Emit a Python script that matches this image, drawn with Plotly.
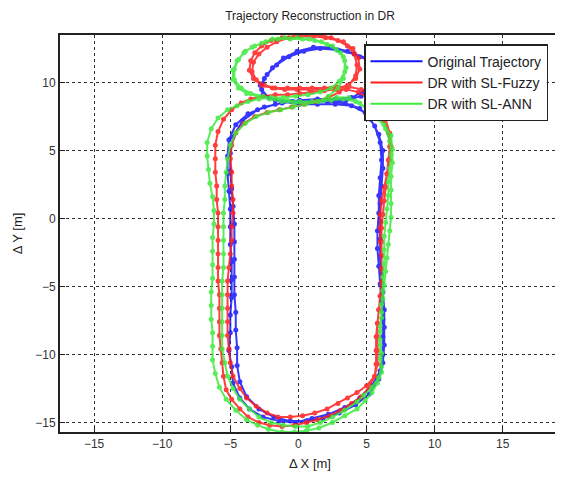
import plotly.graph_objects as go

# ---------------- data ----------------
orig_x = [0.6, -0.6, -1.8, -2.9, -3.8, -4.3, -4.5, -4.5, -4.6, -4.6, -4.7, -4.7, -4.7, -4.7, -4.7, -4.8, -4.9, -5.0, -5.0, -4.8,
          -4.1, -3.0, -1.7, -0.4, 0.9, 2.2, 3.5, 4.6, 5.4, 5.7, 5.3, 4.5, 3.6, 2.4, 1.1, -0.1, -1.1, -1.9, -2.5, -2.7,
          -2.2, -1.2, 0.1, 1.4, 2.7, 3.9, 4.9, 5.6, 6.0, 6.1, 6.0, 5.9, 5.9, 5.8, 5.8, 5.9, 6.0, 6.1, 6.2, 6.2,
          6.2, 6.0, 5.4, 4.5, 3.4, 2.2, 1.0,
          -0.2, -1.4, -2.6, -3.6, -4.3, -4.8, -4.9, -5.1, -5.0, -5.0, -4.9, -4.9, -4.9, -5.0, -5.0, -5.0, -5.1, -5.2, -5.2, -5.1,
          -4.6, -3.7, -2.5, -1.2, 0.1, 1.4, 2.7, 3.9, 4.9, 5.6, 5.6, 5.0, 4.1, 2.9, 1.6, 0.4, -0.7, -1.6, -2.3, -2.8,
          -2.6, -1.7, -0.5, 0.8, 2.1, 3.4, 4.5, 5.3, 5.9, 6.2, 6.2, 6.1, 6.0, 6.0, 6.0, 6.0, 6.1, 6.2, 6.3, 6.3,
          6.3, 6.2, 5.9, 5.2, 4.2, 3.0, 1.8, 0.6]
orig_y = [-14.9, -14.9, -14.6, -14.0, -13.1, -12.0, -10.8, -9.5, -8.2, -6.9, -5.6, -4.3, -3.0, -1.7, -0.4, 0.9, 2.2, 3.5, 4.8, 6.0,
          7.2, 8.0, 8.4, 8.6, 8.6, 8.6, 8.7, 9.0, 9.8, 10.8, 11.6, 11.9, 12.3, 12.6, 12.6, 12.3, 11.8, 11.1, 10.3, 9.5,
          8.9, 8.6, 8.4, 8.4, 8.4, 8.3, 7.8, 6.8, 5.6, 4.3, 3.0, 1.7, 0.4, -0.9, -2.2, -3.5, -4.8, -6.1, -7.4, -8.7,
          -10.0, -11.2, -12.3, -13.2, -13.9, -14.4, -14.7,
          -15.0, -14.9, -14.6, -14.0, -13.2, -12.1, -10.9, -9.7, -8.4, -7.1, -5.8, -4.5, -3.2, -1.9, -0.6, 0.7, 2.0, 3.3, 4.6, 5.8,
          6.9, 7.7, 8.2, 8.5, 8.7, 8.8, 8.8, 8.9, 9.4, 10.3, 11.3, 11.8, 12.1, 12.4, 12.5, 12.3, 11.9, 11.3, 10.6, 9.8,
          9.1, 8.7, 8.6, 8.6, 8.6, 8.5, 8.1, 7.3, 6.2, 5.0, 3.7, 2.4, 1.1, -0.2, -1.5, -2.8, -4.1, -5.4, -6.7, -8.0,
          -9.3, -10.6, -11.8, -12.9, -13.7, -14.3, -14.7, -14.9]

fuzzy_x = [0.6, -0.3, -1.2, -2.1, -2.9, -3.7, -4.3, -4.9, -5.3, -5.5, -5.6, -5.7, -5.8, -5.8, -5.8, -5.8, -5.9, -5.9, -5.9, -5.9,
           -5.9, -5.9, -6.0, -6.0, -6.1, -6.1, -6.1, -5.9, -5.5, -4.9, -4.2, -3.5, -2.6, -1.7, -0.8, 0.1, 1.0, 1.9, 2.8, 3.6,
           4.2, 4.5, 4.4, 4.0, 3.3, 2.4, 1.5, 0.6, -0.3, -1.2, -2.0, -2.7, -3.2, -3.5, -3.6, -3.3, -2.7, -1.9, -1.0, -0.1,
           0.8, 1.7, 2.6, 3.5, 4.4, 5.2, 5.8, 6.3, 6.6, 6.7, 6.6, 6.5, 6.4, 6.3, 6.2, 6.1, 6.1, 6.1, 6.1, 6.1,
           6.0, 5.9, 5.8, 5.8, 5.8, 5.8, 5.6, 5.0, 4.3, 3.6, 2.9, 2.1, 1.2, 0.3, -0.6,
           -1.5, -2.3, -3.1, -3.8, -4.3, -4.8, -5.0, -5.1, -5.2, -5.2, -5.2, -5.2, -5.2, -5.1, -5.0, -4.9, -4.9, -4.8, -4.8, -4.9,
           -4.9, -5.0, -4.9, -4.6, -4.0, -3.2, -2.3, -1.4, -0.5, 0.4, 1.3, 2.2, 3.0, 3.7, 4.2, 4.3, 4.1, 3.6, 2.9, 2.0,
           1.1, 0.2, -0.7, -1.6, -2.3, -2.9, -3.3, -3.4, -3.1, -2.5, -1.7, -0.8, 0.1, 1.0, 1.9, 2.8, 3.7, 4.6, 5.4, 6.0,
           6.4, 6.7, 6.8, 6.7, 6.5, 6.3, 6.1, 6.0, 6.0, 6.0, 6.1, 6.1, 6.1, 6.0, 5.9, 5.8, 5.7, 5.7, 5.7, 5.6,
           5.2, 4.6, 3.9, 3.1, 2.3, 1.4, 0.6]
fuzzy_y = [-15.0, -15.2, -15.3, -15.2, -15.0, -14.6, -14.0, -13.3, -12.6, -11.6, -10.6, -9.6, -8.6, -7.6, -6.6, -5.6, -4.6, -3.6, -2.6, -1.6,
           -0.6, 0.4, 1.4, 2.4, 3.4, 4.4, 5.4, 6.4, 7.3, 8.0, 8.5, 8.8, 9.0, 9.1, 9.1, 9.2, 9.3, 9.4, 9.5, 9.8,
           10.3, 11.0, 11.8, 12.5, 13.0, 13.3, 13.5, 13.5, 13.4, 13.3, 13.1, 12.7, 12.2, 11.6, 10.9, 10.3, 9.8, 9.6, 9.5, 9.5,
           9.5, 9.5, 9.5, 9.5, 9.3, 8.8, 8.1, 7.2, 6.3, 5.3, 4.3, 3.3, 2.3, 1.3, 0.3, -0.7, -1.7, -2.7, -3.7, -4.7,
           -5.7, -6.7, -7.7, -8.7, -9.7, -10.7, -11.6, -12.3, -12.8, -13.2, -13.6, -14.0, -14.3, -14.5, -14.6,
           -14.6, -14.3, -13.8, -13.2, -12.5, -11.6, -10.6, -9.6, -8.6, -7.6, -6.6, -5.6, -4.6, -3.6, -2.6, -1.6, -0.6, 0.4, 1.4, 2.4,
           3.4, 4.4, 5.4, 6.3, 7.0, 7.5, 7.8, 8.0, 8.2, 8.4, 8.6, 8.9, 9.3, 9.8, 10.5, 11.3, 12.1, 12.7, 13.1, 13.3,
           13.4, 13.4, 13.3, 13.0, 12.6, 12.1, 11.5, 10.8, 10.2, 9.8, 9.6, 9.6, 9.6, 9.6, 9.6, 9.7, 9.7, 9.5, 9.0, 8.2,
           7.3, 6.3, 5.3, 4.3, 3.3, 2.3, 1.3, 0.3, -0.7, -1.7, -2.7, -3.7, -4.7, -5.7, -6.7, -7.7, -8.7, -9.7, -10.7, -11.6,
           -12.4, -13.1, -13.6, -14.1, -14.5, -14.8, -15.0]

ann_x = [0.6, -0.3, -1.2, -2.2, -3.0, -3.8, -4.6, -5.3, -5.8, -6.1, -6.3, -6.3, -6.3, -6.4, -6.4, -6.4, -6.3, -6.3, -6.3, -6.3,
         -6.2, -6.2, -6.3, -6.5, -6.6, -6.7, -6.7, -6.4, -5.9, -5.2, -4.5, -3.7, -2.9, -2.0, -1.1, -0.2, 0.7, 1.6, 2.4, 3.0,
         3.4, 3.4, 3.1, 2.5, 1.7, 0.8, -0.1, -1.0, -1.9, -2.7, -3.4, -4.0, -4.5, -4.8, -4.8, -4.4, -3.8, -3.0, -2.1, -1.2,
         -0.3, 0.6, 1.5, 2.4, 3.3, 4.2, 5.0, 5.7, 6.3, 6.8, 6.9, 6.9, 6.8, 6.8, 6.8, 6.8, 6.7, 6.6, 6.5, 6.4,
         6.3, 6.2, 6.1, 6.0, 6.0, 6.1, 6.1, 5.9, 5.4, 4.8, 4.3, 3.4, 2.5, 1.6, 0.7, -0.2,
         -1.1, -2.0, -2.9, -3.6, -4.3, -4.8, -5.2, -5.4, -5.6, -5.6, -5.6, -5.6, -5.6, -5.6, -5.5, -5.5, -5.5, -5.5, -5.5, -5.4,
         -5.4, -5.3, -5.2, -5.0, -4.6, -3.9, -3.1, -2.2, -1.3, -0.4, 0.5, 1.4, 2.2, 2.9, 3.3, 3.5, 3.3, 2.8, 2.1, 1.2,
         0.3, -0.6, -1.5, -2.4, -3.2, -3.9, -4.4, -4.7, -4.7, -4.2, -3.5, -2.6, -1.7, -0.8, 0.1, 1.0, 1.9, 2.8, 3.7, 4.5,
         5.2, 5.9, 6.4, 6.7, 6.8, 6.7, 6.6, 6.6, 6.5, 6.4, 6.3, 6.3, 6.3, 6.2, 6.2, 6.1, 6.1, 6.0, 6.0, 6.0,
         6.1, 5.8, 5.4, 4.9, 4.3, 3.4, 2.5, 1.5, 0.6]
ann_y = [-15.6, -15.7, -15.7, -15.5, -15.2, -14.8, -14.1, -13.3, -12.4, -11.4, -10.4, -9.4, -8.4, -7.4, -6.4, -5.4, -4.4, -3.4, -2.4, -1.4,
         -0.4, 0.6, 1.6, 2.6, 3.6, 4.6, 5.6, 6.6, 7.4, 8.0, 8.3, 8.6, 8.8, 8.9, 8.9, 9.0, 9.1, 9.3, 9.6, 10.1,
         10.8, 11.6, 12.2, 12.7, 13.0, 13.2, 13.3, 13.3, 13.2, 12.9, 12.6, 12.2, 11.6, 10.9, 10.2, 9.6, 9.2, 9.0, 8.8, 8.6,
         8.5, 8.5, 8.6, 8.7, 8.8, 8.6, 8.1, 7.5, 6.9, 6.1, 5.1, 4.1, 3.1, 2.1, 1.1, 0.1, -0.9, -1.9, -2.9, -3.9,
         -4.9, -5.9, -6.9, -7.9, -8.9, -9.9, -10.9, -11.7, -12.4, -13.0, -13.5, -14.1, -14.6, -15.0, -15.3, -15.3,
         -15.2, -15.0, -14.6, -14.0, -13.3, -12.5, -11.6, -10.6, -9.6, -8.6, -7.6, -6.6, -5.6, -4.6, -3.6, -2.6, -1.6, -0.6, 0.4, 1.4,
         2.4, 3.4, 4.4, 5.4, 6.3, 7.0, 7.5, 7.8, 8.0, 8.2, 8.4, 8.6, 9.0, 9.6, 10.3, 11.1, 11.9, 12.4, 12.8, 13.1,
         13.2, 13.2, 13.2, 13.0, 12.7, 12.3, 11.7, 11.0, 10.2, 9.6, 9.2, 9.0, 8.8, 8.7, 8.6, 8.6, 8.7, 8.9, 8.9, 8.5,
         7.9, 7.3, 6.6, 5.7, 4.7, 3.7, 2.7, 1.7, 0.7, -0.3, -1.3, -2.3, -3.3, -4.3, -5.3, -6.3, -7.3, -8.3, -9.3, -10.3,
         -11.3, -12.1, -12.8, -13.4, -14.0, -14.5, -15.0, -15.4, -15.6]

series_names = ["Original Trajectory", "DR with SL-Fuzzy", "DR with SL-ANN"]
series_colors = ["rgb(20,20,255)", "rgb(255,30,30)", "rgb(60,235,60)"]
x_ticks = [-15, -10, -5, 0, 5, 10, 15]
y_ticks = [-15, -10, -5, 0, 5, 10]

FONT = "Arial, 'Liberation Sans', sans-serif"

fig = go.Figure()
for name, col, xs, ys in zip(series_names, series_colors,
                             [orig_x, fuzzy_x, ann_x], [orig_y, fuzzy_y, ann_y]):
    fig.add_trace(go.Scatter(x=xs, y=ys, mode="lines+markers", name=name,
                             line=dict(color=col, width=2), opacity=0.85,
                             marker=dict(color=col, size=5), showlegend=False))
for name, col in zip(series_names, series_colors):
    fig.add_trace(go.Scatter(x=[None], y=[None], mode="lines", name=name,
                             line=dict(color=col, width=2)))

axis_common = dict(showgrid=True, gridcolor="#333", griddash="dot", gridwidth=1,
                   zeroline=False, showline=True, linecolor="#222", linewidth=2,
                   mirror=True, ticks="inside", ticklen=5, tickcolor="#222",
                   automargin=False,
                   tickfont=dict(family=FONT, size=12, color="#333"))

fig.update_layout(
    width=563, height=477,
    margin=dict(l=52, r=11, t=27, b=53),
    paper_bgcolor="white", plot_bgcolor="white",
    title=dict(text="Trajectory Reconstruction in DR", xref="paper", x=0.5, xanchor="center",
               y=1.0, yanchor="top", pad=dict(t=4),
               font=dict(family=FONT, size=12, color="#222")),
    xaxis=dict(range=[-17.5, 19.2], tickvals=x_ticks,
               title=dict(text="Δ X [m]", font=dict(family=FONT, size=13, color="#222"), standoff=8),
               **axis_common),
    yaxis=dict(range=[-15.7, 13.5], tickvals=y_ticks,
               title=dict(text="Δ Y [m]", font=dict(family=FONT, size=13, color="#222"), standoff=10),
               **axis_common),
    legend=dict(x=0.608, y=0.977, xanchor="left", yanchor="top",
                bgcolor="white", bordercolor="#222", borderwidth=1.5,
                font=dict(family=FONT, size=14, color="#222"),
                tracegroupgap=0, itemwidth=52),
    showlegend=True,
)

fig.write_html("out.html")
